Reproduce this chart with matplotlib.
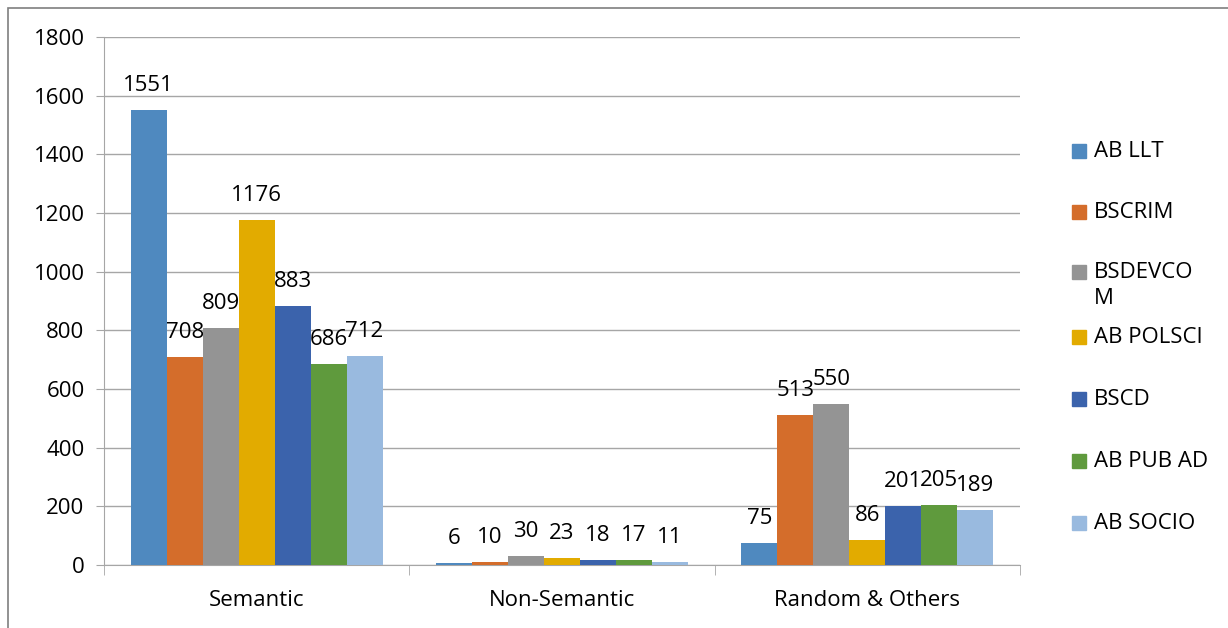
import numpy as np
import matplotlib.pyplot as plt
from matplotlib.patches import Rectangle

categories = ["Semantic", "Non-Semantic", "Random & Others"]
series_names = ["AB LLT", "BSCRIM", "BSDEVCOM", "AB POLSCI", "BSCD", "AB PUB AD", "AB SOCIO"]
legend_labels = ["AB LLT", "BSCRIM", "BSDEVCO\nM", "AB POLSCI", "BSCD", "AB PUB AD", "AB SOCIO"]
values = {
    "AB LLT": [1551, 6, 75],
    "BSCRIM": [708, 10, 513],
    "BSDEVCOM": [809, 30, 550],
    "AB POLSCI": [1176, 23, 86],
    "BSCD": [883, 18, 201],
    "AB PUB AD": [686, 17, 205],
    "AB SOCIO": [712, 11, 189],
}
colors = ["#4F89BF", "#D46D2B", "#949494", "#E2AB00", "#3B63AC", "#5F9A3D", "#99BADF"]
yticks = [0, 200, 400, 600, 800, 1000, 1200, 1400, 1600, 1800]

plt.rcParams['font.family'] = ['Open Sans', 'DejaVu Sans']
FS = 16

fig = plt.figure(figsize=(12.28, 6.28), dpi=100)
ax = fig.add_axes([104 / 1228, 1 - 565 / 628, (1020 - 104) / 1228, (565 - 37) / 628])

x = np.arange(len(categories))
n = len(series_names)
width = 0.825 / n
for i, name in enumerate(series_names):
    pos = x - 0.4125 + width * (i + 0.5)
    bars = ax.bar(pos, values[name], width, color=colors[i], zorder=3)
    ax.bar_label(bars, padding=10, fontsize=FS)

ax.set_xlim(-0.5, len(categories) - 0.5)
ax.set_ylim(0, 1800)
ax.set_yticks(yticks)
ax.yaxis.grid(True, color="#A6A6A6", linewidth=1, zorder=0)
ax.tick_params(axis="y", length=6, color="#A6A6A6", labelsize=FS, pad=8)

ax.set_xticks(x)
ax.set_xticklabels(categories, fontsize=FS)
ax.tick_params(axis="x", length=0, pad=18)
ax.set_xticks(np.arange(len(categories) + 1) - 0.5, minor=True)
ax.tick_params(axis="x", which="minor", length=7, color="#A6A6A6", direction="out")

for side in ["top", "right"]:
    ax.spines[side].set_visible(False)
for side in ["left", "bottom"]:
    ax.spines[side].set_color("#A6A6A6")

# manual legend, like the Excel one
leg_y = [151, 212, 272, 337, 399, 461, 523]
for i, lab in enumerate(legend_labels):
    yy = 1 - leg_y[i] / 628
    fig.add_artist(Rectangle((1072 / 1228, yy - 7 / 628), 14 / 1228, 14 / 628,
                             transform=fig.transFigure, color=colors[i]))
    fig.text(1094 / 1228, yy + 10 / 628, lab, fontsize=FS, va="top", ha="left",
             linespacing=1.3)

# outer border
fig.add_artist(Rectangle((8 / 1228, -0.01), 1.2, 1 - 8 / 628 + 0.01, transform=fig.transFigure,
                         fill=False, edgecolor="#7F7F7F", linewidth=1.2))

fig.savefig("out.png", dpi=100)
